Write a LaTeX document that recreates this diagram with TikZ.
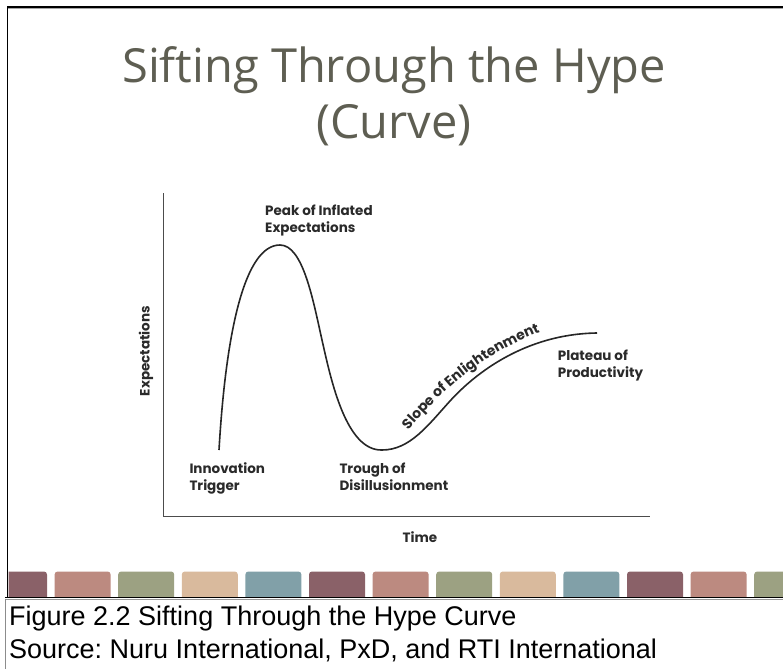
\documentclass[tikz,border=0pt]{standalone}
\usepackage{fontspec}
\setmainfont{Liberation Sans}
\newfontfamily\titlefont{Open Sans}
\newfontfamily\labelfont{Poppins}
\usetikzlibrary{decorations.text}
\frenchspacing
\definecolor{titlecol}{HTML}{5E5E52}
\definecolor{labcol}{HTML}{2A2A2A}
\definecolor{cA}{HTML}{8A6168}
\definecolor{cB}{HTML}{BC8A80}
\definecolor{cC}{HTML}{9CA182}
\definecolor{cD}{HTML}{D9BA9D}
\definecolor{cE}{HTML}{81A0A8}
\tikzset{
  lab/.style={font=\labelfont\bfseries\fontsize{13.5}{17}\selectfont, text=labcol, inner sep=0pt, align=left},
  ttl/.style={font=\titlefont\fontsize{47}{56}\selectfont, text=titlecol, inner sep=0pt},
  captext/.style={font=\fontsize{27}{33}\selectfont, text=black, inner sep=0pt},
  axisline/.style={draw=black!70, line width=1.3pt},
  hype/.style={draw=black!85, line width=1.6pt},
  block/.style={rounded corners=3pt}
}
\begin{document}
\begin{tikzpicture}[x=1pt,y=-1pt]
\useasboundingbox (0,0) rectangle (783,669);
\clip (0,0) rectangle (783,669);
\fill[white] (0,0) rectangle (783,669);
% frame
\draw[black!35, line width=1pt] (7,8.8) -- (783,8.8);
\draw[black, line width=1.6pt] (7.5,7) -- (783,7);
\draw[black, line width=1.6pt] (7.5,6.2) -- (7.5,597);
% colour blocks
\begin{scope}
\clip (8.6,560) rectangle (783,597);
\foreach \i/\c in {0/cA,1/cB,2/cC,3/cD,4/cE,5/cA,6/cB,7/cC,8/cD,9/cE,10/cA,11/cB,12/cC}{
  \fill[\c, block] ({-9+63.6*\i},600) rectangle ({47+63.6*\i},571.5);
}
\end{scope}
% caption box
\draw[black!40, line width=1.2pt] (5.5,599.5) -- (783,599.5);
\draw[black, line width=1.2pt] (5,597.6) -- (783,597.6);
\draw[black!45, line width=1.4pt] (5.2,598.5) -- (5.2,669);
\node[captext, anchor=base west] (cap1) at (9,625) {Figure 2.2 Sifting Through the Hype Curve};
\node[captext, anchor=base west] (cap2) at (9,658.5) {Source: Nuru International, PxD, and RTI International};
% title
\node[ttl, anchor=base] (t1) at (394,82.3) {Sifting Through the Hype};
\node[ttl, anchor=base] (t2) at (394,138.3) {(Curve)};
% axes
\coordinate (org) at (163.3,516.7);
\coordinate (ytop) at (163.3,193);
\coordinate (xend) at (650,516.7);
\draw[axisline] (ytop) -- (org) -- (xend);
% hype curve
\coordinate (S) at (219,450);
\coordinate (P) at (280,245);
\coordinate (I1) at (322,340);
\coordinate (T) at (382,450);
\coordinate (I2) at (450,401);
\coordinate (E) at (597,333);
\draw[hype] (S) .. controls (226,330) and (245,245) .. (P)
  .. controls (303,245) and (313,300) .. (I1)
  .. controls (331,380) and (346,451) .. (T)
  .. controls (410,450) and (428,425.2) .. (I2)
  .. controls (475,373.5) and (525,334) .. (E);
% labels (base = baseline of last line)
\node[lab, anchor=base west] (peak) at (265,232.7) {Peak of Inflated\\Expectations};
\node[lab, anchor=base west] (innov) at (189.3,490.5) {Innovation\\Trigger};
\node[lab, anchor=base west] (trough) at (339.3,490.5) {Trough of\\Disillusionment};
\node[lab, anchor=base west] (plat) at (557.7,377.5) {Plateau of\\Productivity};
\node[lab, anchor=base, rotate=90] (ylab) at (149.5,351) {Expectations};
\node[lab, anchor=base] (xlab) at (420,542) {Time};
\path[decorate, decoration={text along path, text={|\labelfont\bfseries\fontsize{14}{17}\selectfont\color{labcol}|Slope of Enlightenment}, text align=left}]
  (408,430) .. controls (434,401) and (472,357) .. (548,329);
\end{tikzpicture}
\end{document}
